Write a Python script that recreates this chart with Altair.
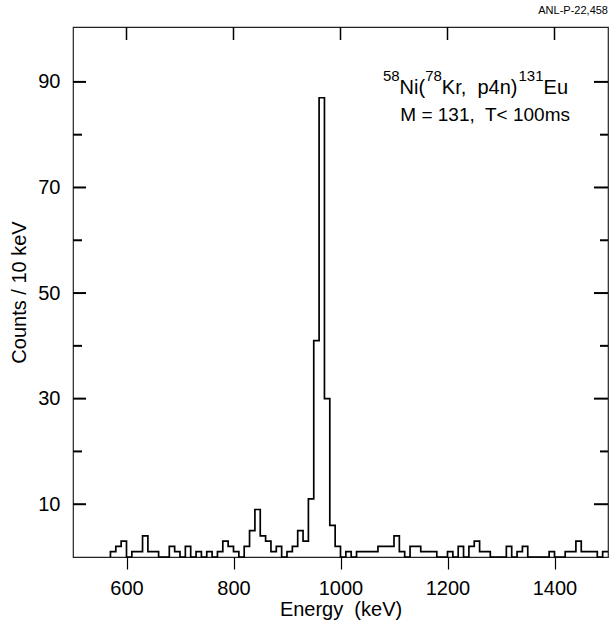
import altair as alt
import pandas as pd

# ---- data (counts per 10 keV bin, starting at 570 keV) ----
first_bin = 570
bin_width = 10
counts = [
    1, 2, 3, 0, 1, 1, 4, 1, 1, 0,        # 570-660
    0, 2, 1, 0, 2, 0, 1, 0, 1, 0,        # 670-760
    1, 3, 2, 1, 0, 2, 5, 9, 4, 3,        # 770-860
    1, 2, 0, 1, 2, 5, 3, 11, 41, 87,     # 870-960
    30, 6, 2, 0, 1, 0, 1, 1, 1, 1,       # 970-1060
    2, 2, 2, 4, 1, 0, 2, 2, 1, 1,        # 1070-1160
    1, 0, 0, 1, 0, 2, 0, 2, 3, 1,        # 1170-1260
    1, 0, 0, 0, 2, 0, 1, 2, 0, 0,        # 1270-1360
    0, 0, 1, 0, 0, 1, 1, 3, 1, 1,        # 1370-1460
    1, 0, 1,                             # 1470-1490
]
x_tick_values = [600, 800, 1000, 1200, 1400]
y_label_values = [10, 30, 50, 70, 90]
y_minor_values = [20, 40, 60, 80]
x_domain = [500, 1500]
y_domain = [0, 100.4]

NB = "\u00a0"
x_title = "Energy" + NB + " (keV)"
y_title = "Counts / 10 keV"
corner_tag = "ANL-P-22,458"
# reaction label split into (text, is_superscript) pieces
reaction_pieces = [("58", True), ("Ni(", False), ("78", True), ("Kr," + NB + " p4n)", False),
                   ("131", True), ("Eu", False)]
gate_text = "M = 131," + NB + " T< 100ms"

FONT = "Liberation Sans"
W, H = 535, 530

# ---- step outline built from the bins ----
energies = [first_bin + i * bin_width for i in range(len(counts))]
pts = [(first_bin, 0)]
for e, c in zip(energies, counts):
    pts.append((e, c))
    pts.append((e + bin_width, c))
hist = pd.DataFrame(pts, columns=["energy", "count"])
hist["order"] = range(len(hist))

xscale = alt.Scale(domain=x_domain, nice=False, zero=False)
yscale = alt.Scale(domain=y_domain, nice=False, zero=False)
xaxis = alt.Axis(values=x_tick_values, title=x_title, grid=False, domain=False,
                 tickSize=12, tickWidth=1.2, tickColor="black",
                 labelPadding=9, titlePadding=1, format="d")
yaxis = alt.Axis(values=y_label_values, title=y_title, grid=False, domain=False,
                 ticks=False, tickSize=0, labelPadding=13, titlePadding=8)

line = alt.Chart(hist).mark_line(color="black", strokeWidth=1.7, strokeJoin="miter").encode(
    x=alt.X("energy:Q", scale=xscale, axis=xaxis, title=x_title),
    y=alt.Y("count:Q", scale=yscale, axis=yaxis, title=y_title),
    order="order:Q",
)

ymaj = pd.DataFrame({"count": y_label_values})
ymin = pd.DataFrame({"count": y_minor_values})
xmaj = pd.DataFrame({"energy": x_tick_values})

def yticks(df, x0, x1):
    return alt.Chart(df).mark_rule(color="black", strokeWidth=2).encode(
        y=alt.Y("count:Q", scale=yscale, axis=yaxis, title=y_title),
        x=alt.value(x0), x2=alt.value(x1))

left_major = yticks(ymaj, 0, 13)
left_minor = yticks(ymin, 0, 9)
right_major = yticks(ymaj, W, W - 14)
right_minor = yticks(ymin, W, W - 8)
top_ticks = alt.Chart(xmaj).mark_rule(color="black", strokeWidth=1.5).encode(
    x=alt.X("energy:Q", scale=xscale, axis=xaxis, title=x_title),
    y=alt.value(0), y2=alt.value(13))

# ---- annotations ----
adv = {"0": 556, "1": 556, "2": 556, "3": 556, "4": 556, "5": 556, "6": 556, "7": 556,
       "8": 556, "9": 556, "N": 722, "i": 222, "(": 333, ")": 333, "K": 667, "r": 333,
       ",": 278, " ": 278, NB: 278, "p": 556, "n": 556, "E": 667, "u": 556}
MAIN_FS, SUP_FS = 20, 15
widths = [sum(adv[ch] for ch in t) / 1000 * (SUP_FS if s else MAIN_FS) for t, s in reaction_pieces]
right_edge = 495
cur = right_edge - sum(widths)
layers_txt = []
for (t, s), w in zip(reaction_pieces, widths):
    layers_txt.append(
        alt.Chart(pd.DataFrame({"t": [t]})).mark_text(
            font=FONT, fontSize=SUP_FS if s else MAIN_FS, align="left", baseline="alphabetic",
            color="black").encode(text="t:N", x=alt.value(cur), y=alt.value(54 if s else 67)))
    cur += w

gate = alt.Chart(pd.DataFrame({"t": [gate_text]})).mark_text(
    font=FONT, fontSize=19, align="right", baseline="alphabetic", color="black").encode(
    text="t:N", x=alt.value(497), y=alt.value(94))

tag = alt.Chart(pd.DataFrame({"t": [corner_tag]})).mark_text(
    font=FONT, fontSize=11, align="right", baseline="alphabetic", color="black").encode(
    text="t:N", x=alt.value(W), y=alt.value(-13))

chart = alt.layer(line, left_major, left_minor, right_major, right_minor, top_ticks,
                  *layers_txt, gate, tag).properties(
    width=W, height=H,
    autosize=alt.AutoSizeParams(type="none"),
    padding={"left": 73, "top": 27, "right": 2, "bottom": 65},
    background="white",
).configure_view(stroke="#222", strokeWidth=1.2).configure_axis(
    labelFont=FONT, labelFontSize=20, labelColor="black",
    titleFont=FONT, titleFontSize=20, titleFontWeight="normal", titleColor="black",
)

chart.save("out.html", embed_options={"renderer": "svg", "actions": False})
